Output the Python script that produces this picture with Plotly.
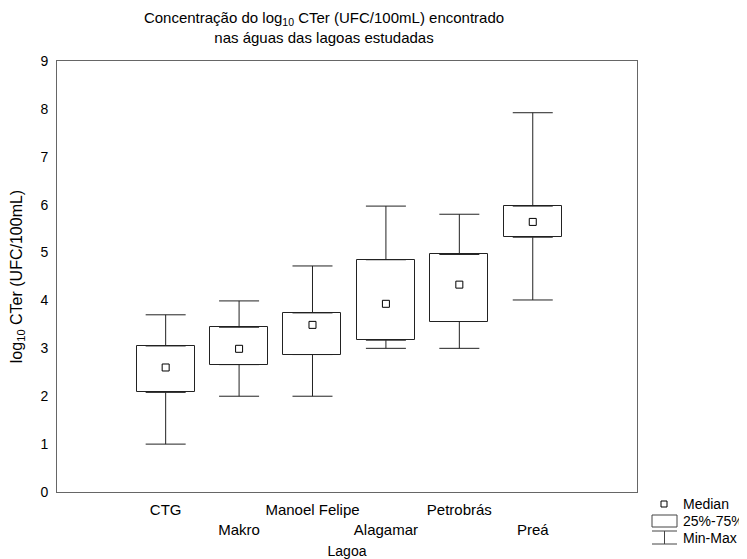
import plotly.graph_objects as go

lagoas = ["CTG", "Makro", "Manoel Felipe", "Alagamar", "Petrobrás", "Preá"]
v_min = [1.00, 2.00, 2.00, 3.00, 3.00, 4.01]
v_q1 = [2.08, 2.66, 2.87, 3.17, 3.56, 5.32]
v_med = [2.60, 2.99, 3.49, 3.93, 4.33, 5.64]
v_q3 = [3.05, 3.44, 3.74, 4.85, 4.96, 5.97]
v_max = [3.70, 3.99, 4.72, 5.97, 5.80, 7.92]
y_ticks = [0, 1, 2, 3, 4, 5, 6, 7, 8, 9]

pos = list(range(len(lagoas)))
tick_text = [name if i % 2 == 0 else "<br>" + name for i, name in enumerate(lagoas)]

FONT = "Liberation Sans, Arial, sans-serif"
LC = "#222222"

fig = go.Figure()

# boxes (25%-75%)
fig.add_trace(go.Bar(
    x=pos, base=v_q1, y=[b - a for a, b in zip(v_q1, v_q3)],
    width=0.79, marker=dict(color="white", line=dict(color=LC, width=1)),
    showlegend=False, hoverinfo="skip"))

# upper whiskers
fig.add_trace(go.Scatter(
    x=pos, y=v_q3, mode="markers", marker=dict(size=1, color="rgba(0,0,0,0)"),
    error_y=dict(type="data", symmetric=False,
                 array=[b - a for a, b in zip(v_q3, v_max)],
                 arrayminus=[0] * len(pos), width=20, thickness=1, color=LC),
    showlegend=False, hoverinfo="skip"))

# lower whiskers
fig.add_trace(go.Scatter(
    x=pos, y=v_q1, mode="markers", marker=dict(size=1, color="rgba(0,0,0,0)"),
    error_y=dict(type="data", symmetric=False,
                 array=[0] * len(pos),
                 arrayminus=[a - b for a, b in zip(v_q1, v_min)],
                 width=20, thickness=1, color=LC),
    showlegend=False, hoverinfo="skip"))

# medians
fig.add_trace(go.Scatter(
    x=pos, y=v_med, mode="markers",
    marker=dict(symbol="square-open", size=7, color="black", line=dict(width=1)),
    showlegend=False))

# page body has an 8px margin, so the figure is offset by 8px
OFF = 8
W, H = 747 - OFF, 559 - OFF
L, R, T, B = 49, 110, 53, 67
pw, ph = W - L - R, H - T - B

def px(x):  # x in reference screen pixels
    return (x - OFF - L) / pw

def py(y):
    return (H - B - (y - OFF)) / ph

shapes = [
    dict(type="rect", xref="paper", yref="paper", x0=px(661), x1=px(667), y0=py(507), y1=py(501),
         line=dict(color="black", width=1), fillcolor="white"),
    dict(type="rect", xref="paper", yref="paper", x0=px(652), x1=px(677), y0=py(527), y1=py(515),
         line=dict(color="#444", width=1), fillcolor="white"),
    dict(type="line", xref="paper", yref="paper", x0=px(652), x1=px(677), y0=py(531), y1=py(531),
         line=dict(color="#444", width=1)),
    dict(type="line", xref="paper", yref="paper", x0=px(664.5), x1=px(664.5), y0=py(531), y1=py(544),
         line=dict(color="#444", width=1)),
    dict(type="line", xref="paper", yref="paper", x0=px(652), x1=px(677), y0=py(544), y1=py(544),
         line=dict(color="#444", width=1)),
]
annotations = []
for text, yy in [("Median", 504), ("25%-75%", 521), ("Min-Max", 538)]:
    annotations.append(dict(text=text, xref="paper", yref="paper", x=px(681), y=py(yy),
                            xanchor="left", yanchor="middle", showarrow=False,
                            font=dict(family=FONT, size=14, color="black")))

fig.update_layout(
    width=W, height=H,
    margin=dict(l=L, r=R, t=T, b=B),
    paper_bgcolor="white", plot_bgcolor="white",
    font=dict(family=FONT, size=14, color="black"),
    title=dict(text="Concentração do log<sub>10</sub> CTer (UFC/100mL) encontrado<br>nas águas das lagoas estudadas",
               x=(324 - OFF) / W, xanchor="center", y=1 - 15 / H, yanchor="top",
               font=dict(family=FONT, size=15, color="black")),
    shapes=shapes, annotations=annotations,
    showlegend=False,
    bargap=0,
)
fig.update_xaxes(
    range=[-1.48, 6.42], tickvals=pos, ticktext=tick_text, tickangle=0, automargin=False,
    showgrid=False, zeroline=False, showline=True, mirror=True, linecolor="#666", linewidth=1,
    ticks="outside", ticklen=4, tickcolor="rgba(0,0,0,0)",
    tickfont=dict(family=FONT, size=15),
    title=dict(text="Lagoa", font=dict(family=FONT, size=14), standoff=11),
)
fig.update_yaxes(
    range=[0, 9], tickvals=y_ticks, automargin=False,
    showgrid=False, zeroline=False, showline=True, mirror=True, linecolor="#666", linewidth=1,
    ticks="outside", ticklen=5, tickcolor="rgba(0,0,0,0)",
    tickfont=dict(family=FONT, size=14),
    title=dict(text="log<sub>10</sub> CTer (UFC/100mL)", font=dict(family=FONT, size=16), standoff=20),
)

fig.write_html("out.html")
